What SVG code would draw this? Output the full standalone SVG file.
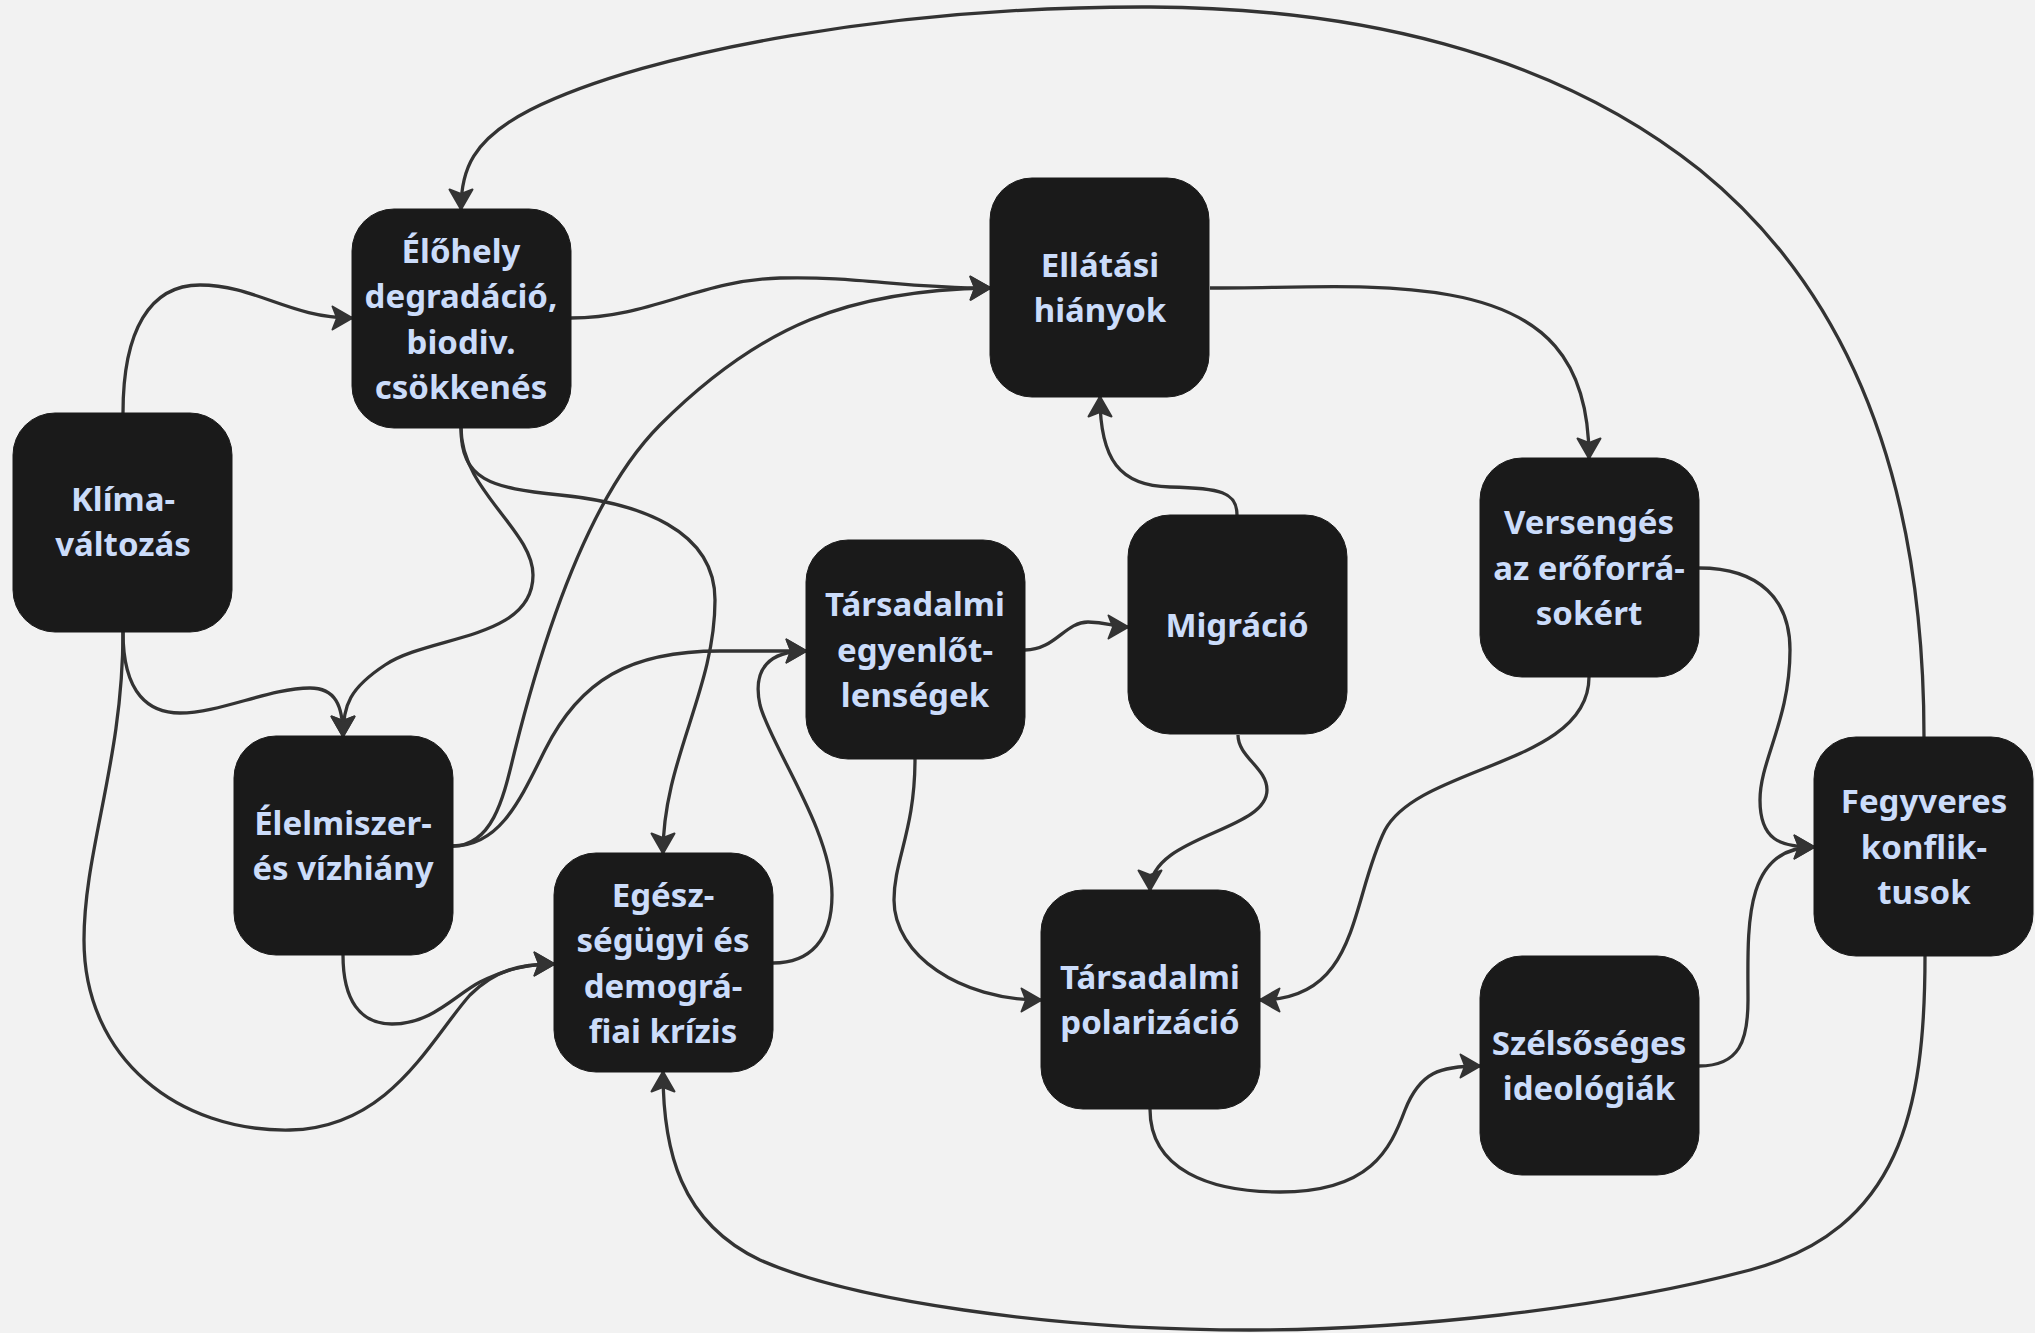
<svg xmlns="http://www.w3.org/2000/svg" width="2035" height="1333" viewBox="0 0 2035 1333">
<style>
.bg{fill:#f2f2f2}
.node rect{fill:#1a1a1a;stroke:#1a1a1a;stroke-width:1}
.node text{fill:#cbdcfa;font-family:"Noto Sans","Open Sans","DejaVu Sans",sans-serif;font-weight:bold;font-size:33px;text-anchor:middle}
.edges path{fill:none;stroke:#333333;stroke-width:3.3}
</style>
<defs>
<marker id="arr" viewBox="0 0 23 26" refX="21" refY="13" markerWidth="23" markerHeight="26" markerUnits="userSpaceOnUse" orient="auto">
<path d="M1.5,1.5 L21.5,13 L1.5,24.5 L6,13 z" fill="#333333" stroke="#333333" stroke-width="2" stroke-linejoin="round"/>
</marker>
</defs>
<rect class="bg" x="0" y="0" width="2035" height="1333"/>
<g class="edges">
<path marker-end="url(#arr)" d="M123,413 C123,330 150,285 200,285 C255,285 290,318 352,318"/>
<path marker-end="url(#arr)" d="M123,632 C123,695 150,713 180,713 C220,713 270,688 310,688 C335,688 343,705 343,736"/>
<path marker-end="url(#arr)" d="M123,632 C123,760 84,850 84,940 C84,1060 180,1132 290,1130 C390,1128 430,1040 470,995 C495,970 520,964 554,964"/>
<path marker-end="url(#arr)" d="M343,955 C343,1000 360,1024 392,1024 C432,1024 455,995 480,982 C505,970 525,964 554,964"/>
<path marker-end="url(#arr)" d="M571,318 C650,318 700,280 780,278 C860,276 900,288 990,288"/>
<path marker-end="url(#arr)" d="M461,428 C461,490 533,530 533,575 C533,640 430,635 385,665 C350,688 343,705 343,736"/>
<path marker-end="url(#arr)" d="M461,428 C461,480 490,488 560,495 C640,503 715,530 715,600 C715,690 663,760 663,853"/>
<path marker-end="url(#arr)" d="M1210,288 C1300,288 1380,282 1450,295 C1545,312 1589,360 1589,458"/>
<path marker-end="url(#arr)" d="M453,846 C495,846 505,790 515,750 C545,630 590,495 660,425 C760,325 850,290 990,288"/>
<path marker-end="url(#arr)" d="M453,846 C500,846 520,800 545,750 C580,680 630,651 720,651 L806,651"/>
<path marker-end="url(#arr)" d="M1025,650 C1055,650 1065,622 1088,622 C1108,622 1112,627 1128,627"/>
<path marker-end="url(#arr)" d="M915,759 C915,830 894,860 894,900 C894,955 960,1000 1041,1000"/>
<path marker-end="url(#arr)" d="M773,963 C810,963 832,940 832,895 C832,830 770,745 760,705 C752,668 770,651 806,651"/>
<path marker-end="url(#arr)" d="M1237,515 C1237,492 1220,488 1170,487 C1120,486 1100,460 1100,397"/>
<path marker-end="url(#arr)" d="M1238,735 C1238,757 1267,768 1267,790 C1267,832 1150,835 1150,890"/>
<path marker-end="url(#arr)" d="M1589,677 C1589,765 1420,765 1385,830 C1350,900 1360,1000 1260,1000"/>
<path marker-end="url(#arr)" d="M1699,568 C1760,568 1790,600 1790,650 C1790,720 1760,760 1760,800 C1760,840 1780,847 1814,847"/>
<path marker-end="url(#arr)" d="M1699,1066 C1740,1066 1748,1040 1748,1000 C1748,930 1742,847 1814,847"/>
<path marker-end="url(#arr)" d="M1150,1109 C1150,1170 1210,1192 1280,1192 C1370,1192 1390,1150 1405,1110 C1420,1072 1440,1066 1480,1066"/>
<path marker-end="url(#arr)" d="M1924,737 C1924,500 1860,300 1700,170 C1550,50 1350,8 1151,7 C900,6 650,50 530,110 C472,140 461,170 461,209"/>
<path marker-end="url(#arr)" d="M1925,956 C1925,1110 1900,1230 1750,1270 C1600,1310 1400,1330 1250,1330 C1050,1330 850,1300 760,1260 C680,1222 663,1150 663,1072"/>
</g>
<g id="n-klima" class="node"><rect x="13" y="413" width="219" height="219" rx="42"/><text><tspan x="123" y="511">Klíma-</tspan><tspan x="123" y="556">változás</tspan></text></g>
<g id="n-elohely" class="node"><rect x="352" y="209" width="219" height="219" rx="42"/><text><tspan x="461" y="263">Élőhely</tspan><tspan x="461" y="308">degradáció,</tspan><tspan x="461" y="354">biodiv.</tspan><tspan x="461" y="399">csökkenés</tspan></text></g>
<g id="n-ellatasi" class="node"><rect x="990" y="178" width="219" height="219" rx="42"/><text><tspan x="1100" y="277">Ellátási</tspan><tspan x="1100" y="322">hiányok</tspan></text></g>
<g id="n-egyenlotlen" class="node"><rect x="806" y="540" width="219" height="219" rx="42"/><text><tspan x="915" y="616">Társadalmi</tspan><tspan x="915" y="662">egyenlőt-</tspan><tspan x="915" y="707">lenségek</tspan></text></g>
<g id="n-migracio" class="node"><rect x="1128" y="515" width="219" height="219" rx="42"/><text><tspan x="1237" y="637">Migráció</tspan></text></g>
<g id="n-verseng" class="node"><rect x="1480" y="458" width="219" height="219" rx="42"/><text><tspan x="1589" y="534">Versengés</tspan><tspan x="1589" y="580">az erőforrá-</tspan><tspan x="1589" y="625">sokért</tspan></text></g>
<g id="n-fegyveres" class="node"><rect x="1814" y="737" width="219" height="219" rx="42"/><text><tspan x="1924" y="813">Fegyveres</tspan><tspan x="1924" y="859">konflik-</tspan><tspan x="1924" y="904">tusok</tspan></text></g>
<g id="n-elelmiszer" class="node"><rect x="234" y="736" width="219" height="219" rx="42"/><text><tspan x="343" y="835">Élelmiszer-</tspan><tspan x="343" y="880">és vízhiány</tspan></text></g>
<g id="n-egeszseg" class="node"><rect x="554" y="853" width="219" height="219" rx="42"/><text><tspan x="663" y="907">Egész-</tspan><tspan x="663" y="952">ségügyi és</tspan><tspan x="663" y="998">demográ-</tspan><tspan x="663" y="1043">fiai krízis</tspan></text></g>
<g id="n-polarizacio" class="node"><rect x="1041" y="890" width="219" height="219" rx="42"/><text><tspan x="1150" y="989">Társadalmi</tspan><tspan x="1150" y="1034">polarizáció</tspan></text></g>
<g id="n-szelsoseges" class="node"><rect x="1480" y="956" width="219" height="219" rx="42"/><text><tspan x="1589" y="1055">Szélsőséges</tspan><tspan x="1589" y="1100">ideológiák</tspan></text></g>
</svg>
